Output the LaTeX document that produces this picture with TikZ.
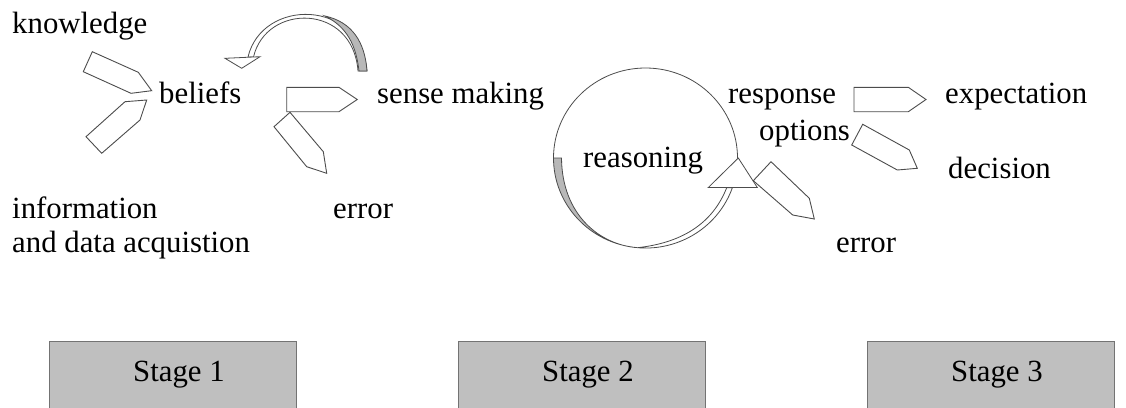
\documentclass[tikz,border=0pt]{standalone}
\usepackage{fontspec}
\setmainfont{Liberation Serif}
\begin{document}
\begin{tikzpicture}[x=1pt,y=1pt,
  lbl/.style={inner sep=0pt,anchor=base west,text=black,font=\fontsize{30.8}{34}\selectfont},
  arrowshape/.style={draw=black!70,line width=0.9pt,fill=white,line join=miter},
  ribbon/.style={draw=black!70,line width=0.8pt,fill=white},
  shade/.style={draw=black!70,line width=0.8pt,fill=black!28},
  stagebox/.style={draw=black!55,line width=1.2pt,fill=black!25,inner sep=0pt,anchor=north west,minimum width=247pt,minimum height=90pt}]
\useasboundingbox (0,0) rectangle (1126,-407);

% stage boxes (cut at bottom)
\begin{scope}
\clip (0,0) rectangle (1126,-407);
\node[stagebox] (s1) at (49,-341) {};
\node[stagebox] (s2) at (458,-341) {};
\node[stagebox] (s3) at (867,-341) {};
\end{scope}
\node[lbl] (t1) at (133,-381) {Stage 1};
\node[lbl] (t2) at (542,-381) {Stage 2};
\node[lbl] (t3) at (951,-381) {Stage 3};

% texts
\node[lbl] (know) at (12,-33) {knowledge};
\node[lbl] (bel) at (159,-103) {beliefs};
\node[lbl] (sm) at (377,-103) {sense making};
\node[lbl] (err1) at (333,-218) {error};
\node[lbl] (info1) at (12,-218) {information};
\node[lbl] (info2) at (12,-252) {and data acquistion};
\node[lbl] (reas) at (583,-167) {reasoning};
\node[lbl] (resp) at (728,-103) {response};
\node[lbl] (opt) at (759,-140) {options};
\node[lbl] (exp) at (945,-103) {expectation};
\node[lbl] (dec) at (948,-178) {decision};
\node[lbl] (err2) at (836,-252) {error};

% block arrows stage 1
\draw[arrowshape] (92.3,-51.7) -- (138.3,-72.3) -- (151.7,-90.7) -- (131,-93.3) -- (83.3,-71.7) -- cycle;
\draw[arrowshape] (125,-101.7) -- (146.7,-100) -- (140,-120) -- (101.7,-153.3) -- (86,-136.7) -- cycle;
\draw[arrowshape] (290,-112.3) -- (323.3,-151.7) -- (326.7,-173.3) -- (306.7,-166.7) -- (274,-126.7) -- cycle;
\draw[arrowshape] (286.7,-87.3) -- (339,-87.3) -- (357.3,-99.5) -- (339,-111.7) -- (286.7,-111.7) -- cycle;

% block arrows stage 3
\draw[arrowshape] (854,-87.3) -- (908.3,-87.3) -- (926,-99.5) -- (908.3,-111.7) -- (854,-111.7) -- cycle;
\draw[arrowshape] (862.7,-124.3) -- (909.3,-150) -- (917.3,-168.3) -- (897.3,-170) -- (851.7,-145) -- cycle;
\draw[arrowshape] (771,-161.7) -- (809.3,-198.3) -- (814.3,-219) -- (792.7,-215) -- (753.3,-180.7) -- cycle;

% curved arrow above beliefs
\draw[ribbon] (248,-57) .. controls (262,2) and (360,2) .. (367,-71)
   -- (358,-71) .. controls (353,-3) and (266,-3) .. (253.5,-57) -- cycle;
\draw[shade] (325,-16) .. controls (352,-22) and (365,-42) .. (367,-71)
   -- (359,-71) .. controls (356,-45) and (347,-27) .. (325,-16) -- cycle;
\draw[ribbon] (225,-58.3) -- (260,-56.7) -- (241.7,-68.3) -- cycle;

% circular arrow (reasoning)
\draw[draw=black!70,line width=0.8pt] (737.5,-158) arc[start angle=0,end angle=180,x radius=92,y radius=90];
\draw[shade] (553.5,-158) arc[start angle=180,end angle=265,x radius=92,y radius=90]
   .. controls (600,-245) and (562,-215) .. (561.5,-158) -- cycle;
\draw[ribbon] (637.5,-247.7) arc[start angle=265,end angle=340.7,x radius=92,y radius=90]
   -- (726.7,-187.7) .. controls (712,-225) and (680,-243) .. (637.5,-247.7) -- cycle;
\draw[ribbon] (708.3,-187.5) -- (757.3,-187.5) -- (738.3,-158) -- cycle;
\end{tikzpicture}
\end{document}
